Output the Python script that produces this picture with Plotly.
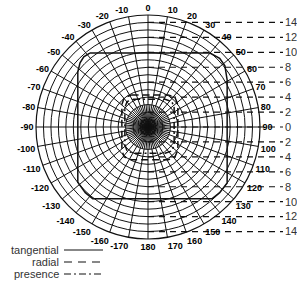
import plotly.graph_objects as go

# ---- data -----------------------------------------------------------
angle_vals = list(range(0, 360, 10))
angle_text = [str(a) if a <= 180 else str(a - 360) for a in angle_vals]
ring_vals = list(range(1, 16))
inner_spoke_angles = list(range(5, 360, 10))
inner_spoke_len = 3.0

scale_rows = [14, 12, 10, 8, 6, 4, 2, 0, -2, -4, -6, -8, -10, -12, -14]
scale_text = [str(abs(v)) for v in scale_rows]

tangential_x = [-7.8, 8.3, 9.6, 10.3, 10.6, 10.6, 9.6, 8.6, -7.4, -8.4, -9.4, -9.4, -9.1, -8.6, -7.8]
tangential_y = [9.9, 9.9, 9.2, 8.2, 6.3, -7.5, -8.8, -9.6, -9.6, -8.8, -7.4, 7.4, 8.6, 9.4, 9.9]

radial_x = [-2.2, 2.7, 3.6, 4.0, 4.0, 3.6, 2.7, -2.2, -3.2, -3.5, -3.5, -3.2, -2.2]
radial_y = [4.3, 4.3, 4.0, 3.0, -3.1, -4.0, -4.4, -4.4, -4.0, -3.1, 3.0, 3.9, 4.3]

presence_x = [-2.0, 2.3, 3.2, 3.5, 3.5, 3.2, 2.3, -2.0, -2.8, -3.1, -3.1, -2.8, -2.0]
presence_y = [3.7, 3.7, 3.4, 2.6, -2.4, -3.2, -3.5, -3.5, -3.2, -2.4, 2.6, 3.4, 3.7]

legend_labels = ["tangential", "radial", "presence"]
legend_dashes = ["solid", "8px,6px", "7px,3px,2px,3px"]

# ---- geometry (pixels) ----------------------------------------------
W, H = 297, 282
CX, CY, R = 148, 127, 112
RMAX = 15
PPU = R / RMAX
AX_END = 283
INK = "#111111"
FONT = "Liberation Sans, Arial, sans-serif"

fig = go.Figure()

# cartesian overlay
for xs, ys, dash, w in [(tangential_x, tangential_y, "solid", 1.5),
                        (radial_x, radial_y, "7px,4px", 1.5),
                        (presence_x, presence_y, "7px,3px,2px,3px", 1.5)]:
    fig.add_trace(go.Scatter(x=xs, y=ys, mode="lines", showlegend=False,
                             line=dict(color=INK, width=w, dash=dash),
                             xaxis="x", yaxis="y", hoverinfo="skip"))

row_x, row_y = [], []
for v in scale_rows:
    row_x += [0, (AX_END - CX) / PPU, None]
    row_y += [v, v, None]
fig.add_trace(go.Scatter(x=row_x, y=row_y, mode="lines", showlegend=False,
                         line=dict(color=INK, width=1.2, dash="6px,5px"),
                         hoverinfo="skip"))

# extra spokes near the centre
sp_r, sp_t = [], []
for a in inner_spoke_angles:
    sp_r += [0, inner_spoke_len, None]
    sp_t += [a, a, None]
fig.add_trace(go.Scatterpolar(r=sp_r, theta=sp_t, mode="lines",
                              line=dict(color=INK, width=1),
                              showlegend=False, hoverinfo="skip"))

fig.update_layout(
    width=W, height=H, margin=dict(l=0, r=0, t=0, b=0, autoexpand=False),
    paper_bgcolor="white", plot_bgcolor="rgba(0,0,0,0)",
    showlegend=False,
    xaxis=dict(domain=[0, AX_END / W], range=[-CX / PPU, (AX_END - CX) / PPU],
               visible=False, fixedrange=True, automargin=False),
    yaxis=dict(domain=[0, 1], range=[(CY - H) / PPU, CY / PPU], side="right",
               tickvals=scale_rows, ticktext=scale_text, showgrid=False,
               zeroline=False, showline=False, ticks="", automargin=False,
               ticklabelstandoff=1,
               tickfont=dict(family=FONT, size=11, color="#333")),
    polar=dict(
        domain=dict(x=[(CX - R) / W, (CX + R) / W], y=[1 - (CY + R) / H, 1 - (CY - R) / H]),
        bgcolor="rgba(0,0,0,0)",
        radialaxis=dict(range=[0, RMAX], tickvals=ring_vals, showticklabels=False,
                        ticks="", showline=False, gridcolor=INK, gridwidth=1.1),
        angularaxis=dict(rotation=90, direction="clockwise", tickvals=angle_vals,
                         ticktext=angle_text, ticks="", gridcolor=INK, gridwidth=1.1,
                         linecolor=INK, linewidth=1.2,
                         tickfont=dict(family=FONT, size=9, color="#000", weight="bold")),
    ),
)

for i, (lab, dash) in enumerate(zip(legend_labels, legend_dashes)):
    yy = 1 - (250 + 12 * i) / H
    fig.add_annotation(x=61 / W, y=yy, xref="paper", yref="paper", text=lab,
                       showarrow=False, xanchor="right", yanchor="middle",
                       font=dict(family=FONT, size=11, color="#333"))
    fig.add_shape(type="line", xref="paper", yref="paper", x0=64 / W, x1=103 / W,
                  y0=yy, y1=yy, line=dict(color=INK, width=1.2, dash=dash))

fig.write_html("out.html", config={"displayModeBar": False},
               post_script="document.body.style.margin='0';")
